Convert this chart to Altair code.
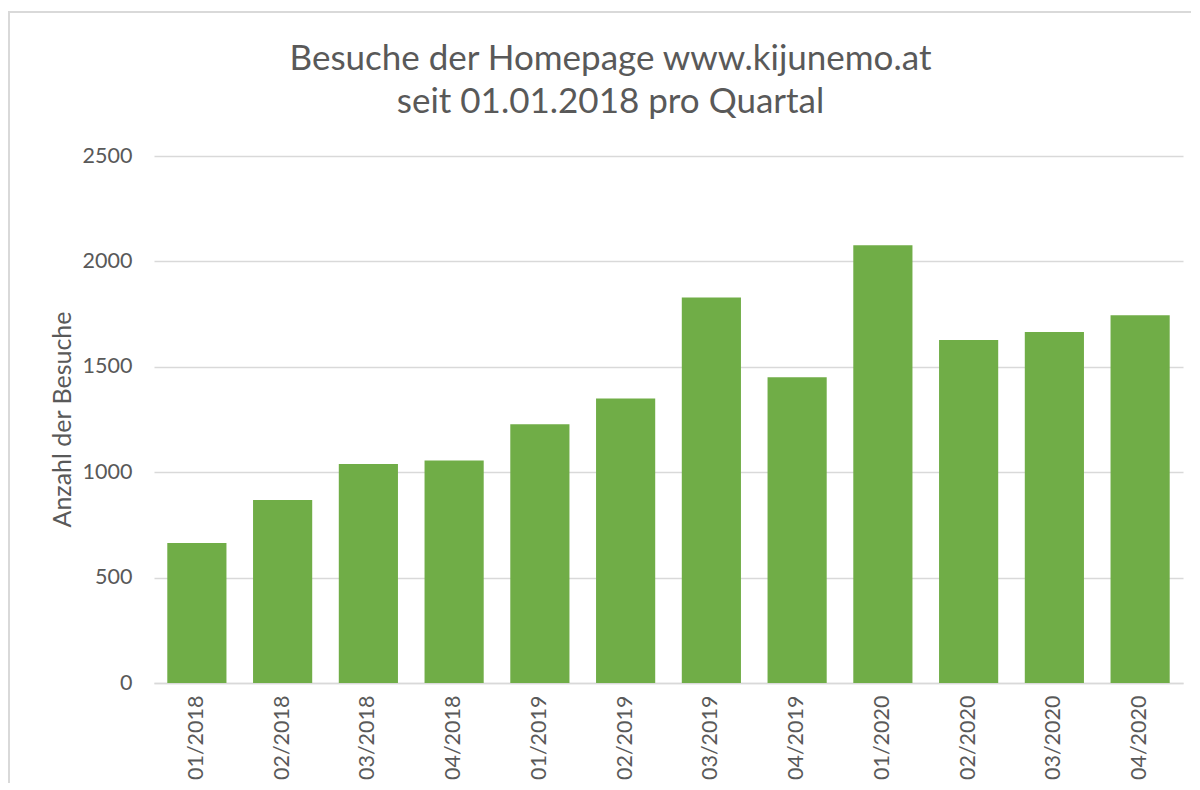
import altair as alt
import pandas as pd

quarters = ["01/2018", "02/2018", "03/2018", "04/2018",
            "01/2019", "02/2019", "03/2019", "04/2019",
            "01/2020", "02/2020", "03/2020", "04/2020"]
visits = [664, 868, 1039, 1056, 1228, 1350, 1829, 1450, 2077, 1627, 1665, 1745]

df = pd.DataFrame({"Quartal": quarters, "Besuche": visits})

FONT = "Lato"
GREY = "#595959"

bars = alt.Chart(df).mark_bar(color="#70ad47").encode(
    x=alt.X("Quartal:N", sort=quarters,
            scale=alt.Scale(paddingInner=0.31, paddingOuter=0.155),
            axis=alt.Axis(title=None, labelAngle=-90, labelFontSize=21.5,
                          labelColor=GREY, labelFont=FONT, labelPadding=12,
                          ticks=False, domainColor="#d9d9d9", domainWidth=1.5,
                          grid=False)),
    y=alt.Y("Besuche:Q",
            scale=alt.Scale(domain=[0, 2500], nice=False),
            axis=alt.Axis(title="Anzahl der Besuche", values=[0, 500, 1000, 1500, 2000, 2500],
                          format="d",
                          labelFontSize=21.5, labelColor=GREY, labelFont=FONT,
                          labelPadding=22, ticks=False, domain=False,
                          gridColor="#d9d9d9", gridWidth=1.5,
                          titleFont=FONT, titleFontSize=25, titleColor=GREY,
                          titleFontWeight="normal", titleX=-92, titleY=263,
                          titleAngle=-90, titleBaseline="middle", titleAlign="center")),
)

frame = alt.Chart(df).mark_rect(fill=None, stroke="#d9d9d9", strokeWidth=1.5).encode(
    x=alt.value(-145), x2=alt.value(1060), y=alt.value(-144), y2=alt.value(640)
)

chart = alt.layer(frame, bars).properties(
    width=1029, height=527,
    autosize=alt.AutoSizeParams(type="none"),
    padding={"left": 146, "top": 148, "right": 8, "bottom": 100},
    title=alt.TitleParams(
        text=["Besuche der Homepage www.kijunemo.at", "seit 01.01.2018 pro Quartal"],
        font=FONT, fontSize=35, fontWeight="normal", color=GREY,
        anchor="middle", dx=-58, offset=-109, lineHeight=43,
    ),
).configure_view(stroke=None)

chart.save("out.html", embed_options={"renderer": "svg", "actions": False})
